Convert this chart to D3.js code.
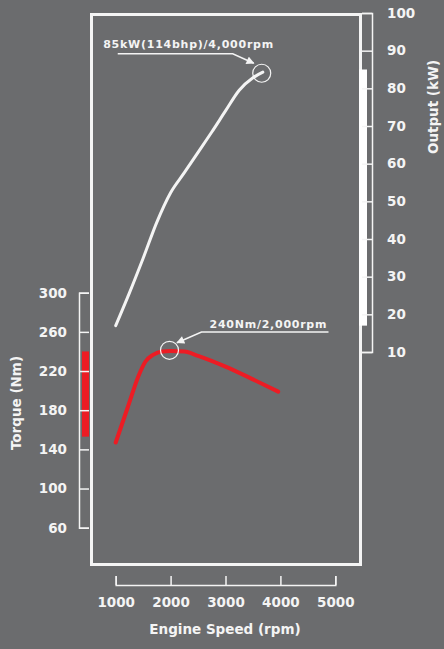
<!DOCTYPE html>
<html>
<head>
<meta charset="utf-8">
<script src="https://cdn.jsdelivr.net/npm/d3@7"></script>
<style>
  html, body { margin: 0; padding: 0; background: #6b6c6e; }
  svg { display: block; }
  text { font-family: "DejaVu Sans", sans-serif; font-weight: bold; fill: #f4f4f4; }
</style>
</head>
<body>
<svg id="chart" width="444" height="649"></svg>
<script>
// ---------- data ----------
const rpmTicks = [1000, 2000, 3000, 4000, 5000];
const torqueTicks = [60, 100, 140, 180, 220, 260, 300];
const powerTicks = [10, 20, 30, 40, 50, 60, 70, 80, 90, 100];

const powerRpm = [1000, 1250, 1500, 1750, 2000, 2250, 2500, 2750, 3000, 3250, 3500, 3680];
const powerKw  = [17, 25.7, 34.9, 44.5, 52.3, 57.6, 63, 68.4, 74, 79.5, 82.8, 84.3];

const torqueRpm = [1000, 1220, 1430, 1540, 1680, 1850, 2000, 2250, 2500, 3000, 3500, 3960];
const torqueNm  = [147, 183, 217, 229.5, 236.5, 240, 240.5, 240, 235.5, 224.5, 211.5, 199];

const torqueRange = [153, 240];
const powerRange = [17, 85];

const powerPeak = { rpm: 3660, kw: 84 };
const torquePeak = { rpm: 1980, nm: 241.2 };

const powerLabel = "85kW(114bhp)/4,000rpm";
const torqueLabel = "240Nm/2,000rpm";

// ---------- setup ----------
const svg = d3.select("#chart");
const WHITE = "#f4f4f4";
const RED = "#ec1c24";

const x = d3.scaleLinear().domain([1000, 5000]).range([115.7, 335.3]);
const yT = d3.scaleLinear().domain([60, 300]).range([527.7, 292.7]);
const yP = d3.scaleLinear().domain([10, 100]).range([352, 13]);

const defs = svg.append("defs");
defs.append("marker")
  .attr("id", "arrow").attr("viewBox", "0 0 10 10")
  .attr("refX", 9).attr("refY", 5)
  .attr("markerWidth", 9).attr("markerHeight", 8)
  .attr("markerUnits", "userSpaceOnUse")
  .attr("orient", "auto")
  .append("path").attr("d", "M0,0L10,5L0,10Z").attr("fill", WHITE);

// frame
svg.append("rect")
  .attr("x", 91.5).attr("y", 14.5).attr("width", 269).attr("height", 550)
  .attr("fill", "none").attr("stroke", WHITE).attr("stroke-width", 3);

// range bars
svg.append("rect")
  .attr("x", 82).attr("width", 7)
  .attr("y", yT(torqueRange[1])).attr("height", yT(torqueRange[0]) - yT(torqueRange[1]))
  .attr("fill", RED);
svg.append("rect")
  .attr("x", 359).attr("width", 8)
  .attr("y", yP(powerRange[1])).attr("height", yP(powerRange[0]) - yP(powerRange[1]))
  .attr("fill", "#ffffff");

function styleAxis(g) {
  g.selectAll("path, line").attr("stroke", WHITE).attr("stroke-width", 1.5);
  g.selectAll("text").attr("fill", WHITE).attr("font-size", 13.5)
    .attr("font-family", "DejaVu Sans").attr("font-weight", "bold");
}

// torque axis (left)
const gT = svg.append("g").attr("transform", "translate(79,0)")
  .call(d3.axisRight(yT).tickValues(torqueTicks).tickSize(10).tickSizeOuter(10).tickFormat(d3.format("d")));
gT.selectAll("text").attr("x", -12).attr("text-anchor", "end");
styleAxis(gT);

// power axis (right)
const gP = svg.append("g").attr("transform", "translate(372,0)")
  .call(d3.axisLeft(yP).tickValues(powerTicks).tickSize(10).tickSizeOuter(10).tickFormat(d3.format("d")));
gP.selectAll("text").attr("x", 15).attr("text-anchor", "start");
styleAxis(gP);

// rpm axis (bottom)
const gX = svg.append("g").attr("transform", "translate(0,585)")
  .call(d3.axisTop(x).tickValues(rpmTicks).tickSize(9).tickSizeOuter(9).tickFormat(d3.format("d")));
gX.selectAll("text").attr("y", 17).attr("dy", "0.36em");
styleAxis(gX);

// axis titles
svg.append("text").attr("x", 225).attr("y", 634).attr("text-anchor", "middle")
  .attr("font-size", 13.5).text("Engine Speed (rpm)");
svg.append("text").attr("transform", "translate(16,403) rotate(-90)")
  .attr("text-anchor", "middle").attr("dominant-baseline", "central")
  .attr("font-size", 13.5).text("Torque (Nm)");
svg.append("text").attr("transform", "translate(433,107) rotate(-90)")
  .attr("text-anchor", "middle").attr("dominant-baseline", "central")
  .attr("font-size", 13.5).text("Output (kW)");

// curves
const powerData = powerRpm.map((r, i) => [r, powerKw[i]]);
const torqueData = torqueRpm.map((r, i) => [r, torqueNm[i]]);

svg.append("path").datum(powerData)
  .attr("d", d3.line().x(d => x(d[0])).y(d => yP(d[1])).curve(d3.curveMonotoneX))
  .attr("fill", "none").attr("stroke", WHITE).attr("stroke-width", 3).attr("stroke-linecap", "round");

svg.append("path").datum(torqueData)
  .attr("d", d3.line().x(d => x(d[0])).y(d => yT(d[1])).curve(d3.curveMonotoneX))
  .attr("fill", "none").attr("stroke", RED).attr("stroke-width", 4).attr("stroke-linecap", "round");

// peak markers
const pcx = x(powerPeak.rpm), pcy = yP(powerPeak.kw);
const tcx = x(torquePeak.rpm), tcy = yT(torquePeak.nm);
svg.append("circle").attr("cx", pcx).attr("cy", pcy).attr("r", 9)
  .attr("fill", "none").attr("stroke", WHITE).attr("stroke-width", 1.2);
svg.append("circle").attr("cx", tcx).attr("cy", tcy).attr("r", 9)
  .attr("fill", "none").attr("stroke", WHITE).attr("stroke-width", 1.2);

// annotations
svg.append("path")
  .attr("d", `M${pcx - 144},${pcy - 19.5}H${pcx - 29}L${pcx - 8},${pcy - 10}`)
  .attr("fill", "none").attr("stroke", WHITE).attr("stroke-width", 1.5)
  .attr("marker-end", "url(#arrow)");
svg.append("text").attr("x", pcx - 158.5).attr("y", pcy - 25.5)
  .attr("font-size", 11).attr("letter-spacing", 0.75).text(powerLabel);

svg.append("path")
  .attr("d", `M${tcx + 159},${tcy - 18.3}H${tcx + 32}L${tcx + 7.5},${tcy - 7.5}`)
  .attr("fill", "none").attr("stroke", WHITE).attr("stroke-width", 1.5)
  .attr("marker-end", "url(#arrow)");
svg.append("text").attr("x", tcx + 40).attr("y", tcy - 22.7)
  .attr("font-size", 11).attr("letter-spacing", 0.75).text(torqueLabel);
</script>
</body>
</html>
